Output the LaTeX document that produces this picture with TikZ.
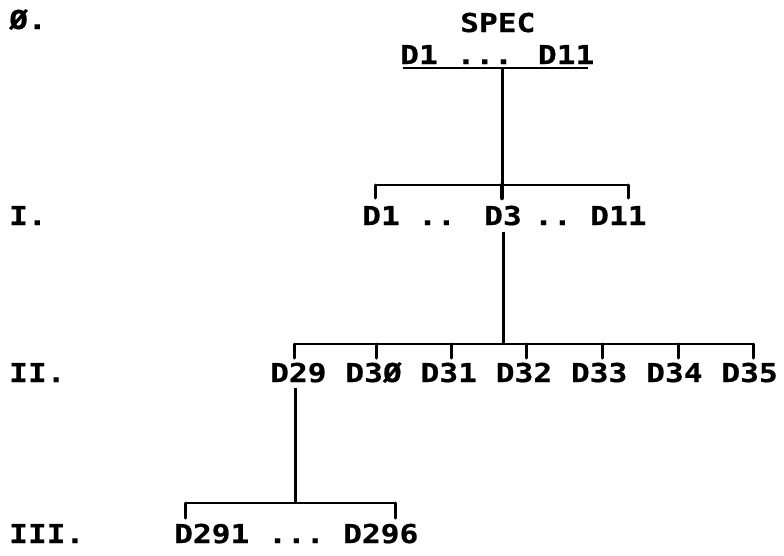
\documentclass[tikz,border=0pt]{standalone}
\usepackage{fontspec}
% wide, heavy monospace to imitate the plotter lettering
\newfontfamily\plotfont[FakeStretch=1.2,FakeBold=0.6]{DejaVu Sans Mono}
\begin{document}
\begin{tikzpicture}[x=1pt,y=-1pt,
  lbl/.style={font=\plotfont\bfseries\fontsize{26}{26}\selectfont,
              anchor=base west, inner sep=0pt},
  stem/.style={line width=3pt},
  bar/.style={line width=2.2pt, line join=round},
  tick/.style={line width=3pt, line cap=round},
]
\useasboundingbox (0,0) rectangle (784,555);

% level numbers on the left
\node[lbl] (lv0) at (9,29)  {Ø.};
\node[lbl] (lv1) at (9,225) {I.};
\node[lbl] (lv2) at (9,382) {II.};
\node[lbl] (lv3) at (9,543) {III.};

% level 0
\node[lbl] (spec) at (460,32) {SPEC};
\node[lbl] (root) at (400,64) {D1 ... D11};
\coordinate (ulA) at (403,68);
\coordinate (ulB) at (588,68);
\draw[line width=2.4pt] (ulA) -- (ulB);

% level I
\node[lbl] (n1)    at (362,225) {D1};
\node[lbl] (dotsA) at (418,225) {..};
\node[lbl] (n3)    at (484,225) {D3};
\node[lbl] (dotsB) at (534,225) {..};
\node[lbl] (n11)   at (590,225) {D11};
\coordinate (s0) at (502,68);
\coordinate (b1) at (502,185);
\draw[stem] (s0) -- (b1);
\draw[line width=4.5pt, line cap=round] (b1) -- ++(0,13);
\draw[bar] (375,185) -- (628,185);
\foreach \x in {375,628}
  \draw[tick] (\x,185) -- (\x,198);

% level II
\foreach \k/\lab in {0/D29,1/D3Ø,2/D31,3/D32,4/D33,5/D34,6/D35}
  \node[lbl] (m\k) at ({270+\k*75.2},382) {\lab};
\coordinate (s1) at (503,232);
\coordinate (b2) at (503,344);
\draw[stem] (s1) -- (b2);
\draw[bar] (294,344) -- (753,344);
\foreach \x in {294,376,451,526,602,678,753}
  \draw[tick] (\x,344) -- (\x,358);

% level III
\node[lbl] (p1)    at (174,543) {D291};
\node[lbl] (dotsC) at (268,543) {...};
\node[lbl] (p6)    at (343,543) {D296};
\coordinate (s2) at (295,388);
\coordinate (b3) at (295,503);
\draw[stem] (s2) -- (b3);
\draw[bar] (185,503) -- (395,503);
\foreach \x in {185,395}
  \draw[tick] (\x,503) -- (\x,518);
\end{tikzpicture}
\end{document}
